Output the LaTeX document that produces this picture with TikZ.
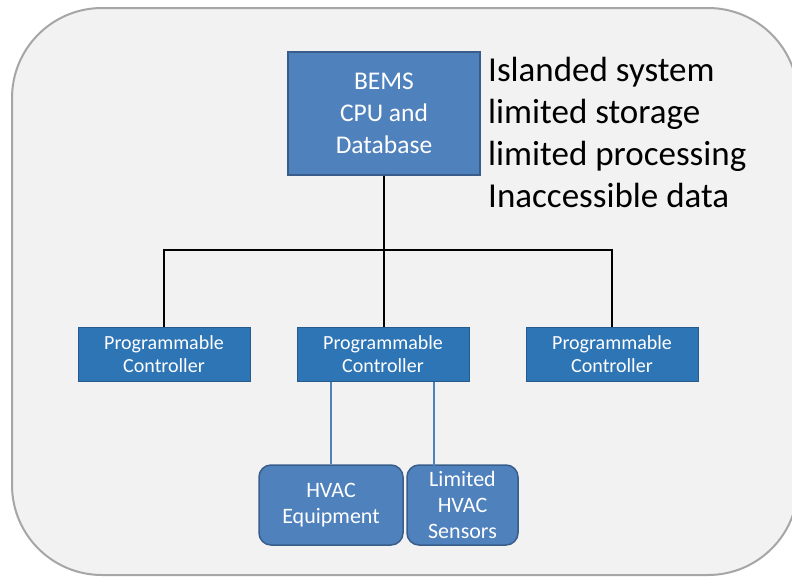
\documentclass[tikz,border=0pt]{standalone}
\usepackage{fontspec}
\setmainfont{Carlito}
\usepackage{xcolor}
\definecolor{bemsblue}{RGB}{79,129,189}
\definecolor{bemsedge}{RGB}{56,93,138}
\definecolor{ctrlblue}{RGB}{46,117,182}
\definecolor{ctrledge}{RGB}{40,90,140}
\definecolor{panel}{RGB}{242,242,242}
\definecolor{paneledge}{RGB}{166,166,166}

\tikzset{
	cpubox/.style={draw=bemsedge, fill=bemsblue, line width=1.5pt, text=white, align=center, font=\fontsize{25.5}{32}\selectfont},
	ctrlbox/.style={draw=ctrledge, fill=ctrlblue, line width=1pt, text=white, align=center, font=\fontsize{20}{23}\selectfont},
	hvacbox/.style={draw=bemsedge, fill=bemsblue, line width=1.5pt, rounded corners=12pt, text=white, align=center, font=\fontsize{22}{26}\selectfont},
	bus/.style={line width=1.5pt, black},
	link/.style={line width=1.5pt, color=bemsblue}
}

\begin{document}
\begin{tikzpicture}[x=1pt, y=-1pt]
	\useasboundingbox (0,0) rectangle (792,576);
	\fill[white] (0,0) rectangle (792,576);
	% rounded panel behind everything
	\draw[fill=panel, draw=paneledge, line width=2pt, rounded corners=90pt] (12,8) rectangle (798,575);
	
	\node[cpubox, minimum width=192pt, minimum height=123pt] (bems) at (384,113.5) {BEMS\\CPU and\\Database};
	
	\node[anchor=north west, align=left, font=\fontsize{35}{42}\selectfont, inner sep=0pt] (notes) at (488,57) {Islanded system\\limited storage\\limited processing\\Inaccessible data};
	
	\node[ctrlbox, minimum width=172pt, minimum height=54pt] (ctrlA) at (164,354) {Programmable\\Controller};
	\node[ctrlbox, minimum width=172pt, minimum height=54pt] (ctrlB) at (383,354) {Programmable\\Controller};
	\node[ctrlbox, minimum width=172pt, minimum height=54pt] (ctrlC) at (612,354) {Programmable\\Controller};
	
	\node[hvacbox, minimum width=144pt, minimum height=80pt] (equip) at (331,505) {HVAC\\Equipment};
	\node[hvacbox, minimum width=111pt, minimum height=80pt] (sens) at (462.5,505) {Limited\\HVAC\\Sensors};
	
	% tree from the CPU to the controllers
	\coordinate (jn) at (384,250);
	\draw[bus] (bems.south) -- (jn);
	\draw[bus] (ctrlA.north) |- (jn) -| (ctrlC.north);
	\draw[bus] (jn) -- (jn |- ctrlB.north);
	
	% sensors link ends inside the sensor box top
	\coordinate (senstop) at (434,470);
	\draw[link] (ctrlB.south -| equip.north) -- (equip.north);
	\draw[link] (ctrlB.south -| senstop) -- (senstop);
\end{tikzpicture}
\end{document}
